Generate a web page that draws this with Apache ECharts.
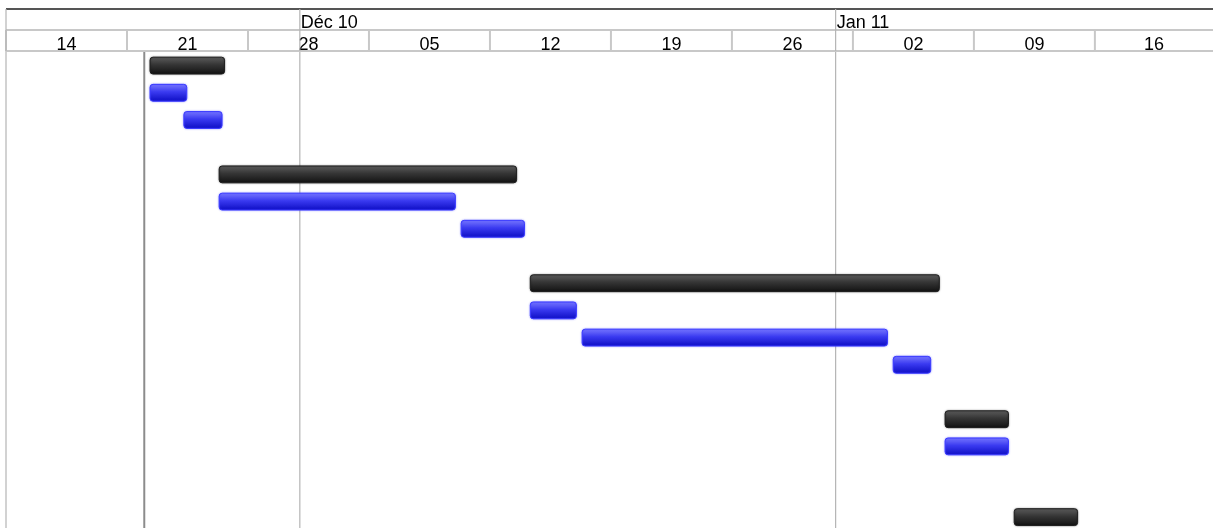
<!DOCTYPE html>
<html><head><meta charset="utf-8">
<script src="https://cdn.jsdelivr.net/npm/echarts@6/dist/echarts.min.js"></script>
<style>html,body{margin:0;padding:0;background:#fff}#c{width:1213px;height:528px}</style>
</head><body><div id="c"></div>
<script>
// ---- data ----
const axisStart = '2010-11-14 00:00';
const axisEnd = '2011-01-22 20:00';
const weekStarts = ['2010-11-14','2010-11-21','2010-11-28','2010-12-05','2010-12-12','2010-12-19','2010-12-26','2011-01-02','2011-01-09','2011-01-16'];
const weekLabels = ['14','21','28','05','12','19','26','02','09','16'];
const monthStarts = ['2010-11-01','2010-12-01','2011-01-01'];
const monthLabels = ['', 'Déc 10', 'Jan 11'];
const todayLine = '2010-11-22';
const taskRows  = [0, 1, 2, 4, 5, 6, 8, 9, 10, 11, 13, 14, 16.6];
const taskKinds = ['summary','task','task','summary','task','task','summary','task','task','task','summary','task','summary'];
const taskStarts = ['2010-11-22 08:00','2010-11-22 08:00','2010-11-24 07:00','2010-11-26 08:00','2010-11-26 08:00','2010-12-10 08:00','2010-12-14 08:00','2010-12-14 08:00','2010-12-17 08:00','2011-01-04 08:00','2011-01-07 08:00','2011-01-07 08:00','2011-01-11 08:00'];
const taskEnds   = ['2010-11-26 15:30','2010-11-24 11:00','2010-11-26 12:00','2010-12-13 13:00','2010-12-10 00:00','2010-12-14 00:00','2011-01-07 00:00','2010-12-17 00:00','2011-01-04 00:00','2011-01-06 12:00','2011-01-11 00:00','2011-01-11 00:00','2011-01-15 00:00'];

// ---- helpers ----
function t(s){
  const parts = s.split(' ');
  const d = parts[0].split('-').map(Number);
  const h = (parts[1] || '0:0').split(':').map(Number);
  return Date.UTC(d[0], d[1]-1, d[2], h[0], h[1]);
}
const T0 = t(axisStart), T1 = t(axisEnd);
const ROWS_VISIBLE = 17.5;
const FONT = '"Liberation Sans", Arial, Helvetica, sans-serif';

const weekData = weekStarts.map((s,i)=>[t(s), i+1 < weekStarts.length ? t(weekStarts[i+1]) : T1]);
const monthData = monthStarts.map((s,i)=>[Math.max(t(s), T0), i+1 < monthStarts.length ? t(monthStarts[i+1]) : T1]);
const taskData = taskRows.map((r,i)=>[t(taskStarts[i]), t(taskEnds[i]), r]);

const chart = echarts.init(document.getElementById('c'), null, {renderer:'canvas'});

const gradSummary = new echarts.graphic.LinearGradient(0,0,0,1,[
  {offset:0,color:'#5e5e5e'},{offset:0.45,color:'#353535'},{offset:1,color:'#111111'}]);
const gradTask = new echarts.graphic.LinearGradient(0,0,0,1,[
  {offset:0,color:'#7a7aff'},{offset:0.45,color:'#3a3af0'},{offset:1,color:'#0c0cc2'}]);

chart.setOption({
  animation:false,
  backgroundColor:'#ffffff',
  grid:[
    {left:6, top:9, right:0, height:42},
    {left:6, top:52, right:0, bottom:0}
  ],
  xAxis:[
    {type:'value', gridIndex:0, min:T0, max:T1, show:false},
    {type:'value', gridIndex:1, min:T0, max:T1, show:false}
  ],
  yAxis:[
    {type:'value', gridIndex:0, min:0, max:2, inverse:true, show:false},
    {type:'value', gridIndex:1, min:0, max:ROWS_VISIBLE, inverse:true, show:false}
  ],
  series:[
    { // week row of header
      type:'custom', xAxisIndex:0, yAxisIndex:0, clip:false, z:3,
      data: weekData,
      renderItem:function(params, api){
        const a = api.coord([api.value(0), 1]);
        const b = api.coord([api.value(1), 2]);
        return {type:'group', children:[
          {type:'line', shape:{x1:a[0], y1:a[1], x2:b[0]+6, y2:a[1]}, style:{stroke:'#c8c8c8', lineWidth:2}},
          {type:'line', shape:{x1:a[0], y1:b[1], x2:b[0]+6, y2:b[1]}, style:{stroke:'#c8c8c8', lineWidth:2}},
          {type:'line', shape:{x1:a[0], y1:a[1], x2:a[0], y2:b[1]}, style:{stroke:'#c8c8c8', lineWidth:2}},
          {type:'text', x:(a[0]+b[0])/2, y:(a[1]+b[1])/2+4.5, style:{text:weekLabels[params.dataIndex], font:'18px '+FONT, fill:'#000', align:'center', verticalAlign:'middle'}}
        ]};
      }
    },
    { // month row of header
      type:'custom', xAxisIndex:0, yAxisIndex:0, clip:false, z:4,
      data: monthData,
      renderItem:function(params, api){
        const a = api.coord([api.value(0), 0]);
        const b = api.coord([api.value(1), 2]);
        const m = api.coord([api.value(0), 1]);
        return {type:'group', children:[
          {type:'line', shape:{x1:a[0], y1:a[1], x2:b[0]+6, y2:a[1]}, style:{stroke:'#555555', lineWidth:2}},
          {type:'line', shape:{x1:a[0], y1:a[1], x2:a[0], y2:b[1]}, style:{stroke:'#b4b4b4', lineWidth:1.2}},
          {type:'text', x:a[0]+1, y:(a[1]+m[1])/2+4, style:{text:monthLabels[params.dataIndex], font:'18px '+FONT, fill:'#000', align:'left', verticalAlign:'middle'}}
        ]};
      }
    },
    { // month lines in body
      type:'custom', xAxisIndex:1, yAxisIndex:1, clip:false, z:1,
      data: monthData,
      renderItem:function(params, api){
        const a = api.coord([api.value(0), 0]);
        const b = api.coord([api.value(0), ROWS_VISIBLE]);
        return {type:'line', shape:{x1:a[0], y1:a[1]-1, x2:b[0], y2:b[1]}, style:{stroke:'#b4b4b4', lineWidth:1.2}};
      }
    },
    { // today / project start line
      type:'custom', xAxisIndex:1, yAxisIndex:1, clip:false, z:1,
      data: [[t(todayLine)]],
      renderItem:function(params, api){
        const a = api.coord([api.value(0), 0]);
        const b = api.coord([api.value(0), ROWS_VISIBLE]);
        return {type:'line', shape:{x1:a[0], y1:a[1], x2:b[0], y2:b[1]}, style:{stroke:'#8c8c8c', lineWidth:2}};
      }
    },
    { // task bars
      type:'custom', xAxisIndex:1, yAxisIndex:1, clip:false, z:5,
      data: taskData,
      renderItem:function(params, api){
        const a = api.coord([api.value(0), api.value(2)]);
        const b = api.coord([api.value(1), api.value(2)]);
        const row = api.size([0,1])[1];
        const h = row*0.62;
        const summary = taskKinds[params.dataIndex] === 'summary';
        return {type:'rect',
          shape:{x:a[0], y:a[1]+0.5*row-h/2, width:b[0]-a[0], height:h, r:3},
          style:{fill: summary ? gradSummary : gradTask,
                 stroke: summary ? '#1e1e1e' : '#3b3bff', lineWidth:1,
                 shadowBlur:2, shadowColor: summary ? 'rgba(0,0,0,0.35)' : 'rgba(60,60,255,0.45)'}};
      }
    }
  ]
});
</script>
</body></html>
